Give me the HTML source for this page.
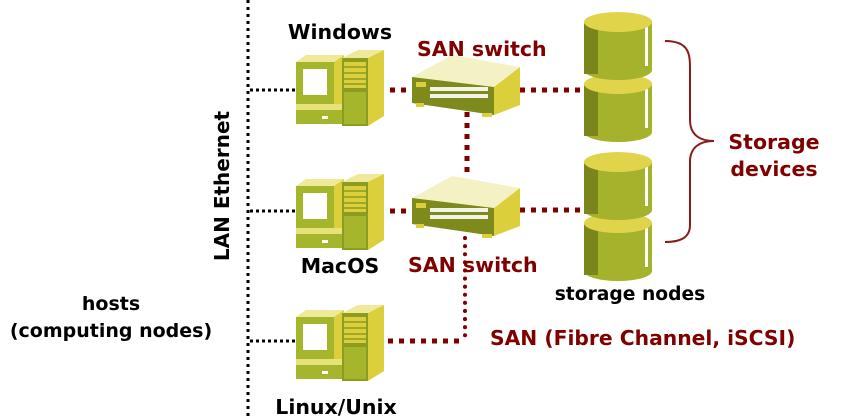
<!DOCTYPE html>
<html><head><meta charset="utf-8"><style>
html,body{margin:0;padding:0;background:#fff;width:841px;height:417px;overflow:hidden}
svg text{font-family:"DejaVu Sans","Liberation Sans",sans-serif;font-weight:bold}
</style></head><body>
<svg width="841" height="417" viewBox="0 0 841 417" xmlns="http://www.w3.org/2000/svg">
<defs>
<g id="pc">
  <polygon points="0,12 10,5 48,5 38,12" fill="#eeea9a"/>
  <polygon points="38,12 48,5 48,60 38,66" fill="#dccf3c"/>
  <rect x="0" y="12" width="38" height="42" fill="#a6b62c"/>
  <rect x="7" y="19" width="24" height="26" fill="#fff"/>
  <rect x="0" y="54" width="48" height="6" fill="#e6e27a"/>
  <rect x="0" y="60" width="48" height="14" fill="#a6b62c"/>
  <rect x="26" y="66" width="6" height="3" fill="#fff"/>
  <polygon points="46,8 62,0 88,0 72,8" fill="#eeea9a"/>
  <polygon points="72,8 88,0 88,66 72,76" fill="#dccf3c"/>
  <rect x="46" y="8" width="26" height="68" fill="#8c9c20"/>
  <rect x="48" y="12" width="22" height="26" fill="#dccf3c"/>
  <line x1="48" y1="17" x2="70" y2="17" stroke="#8c9c20" stroke-width="1.5"/>
  <line x1="48" y1="23" x2="70" y2="23" stroke="#8c9c20" stroke-width="1.5"/>
  <line x1="48" y1="29" x2="70" y2="29" stroke="#8c9c20" stroke-width="1.5"/>
  <line x1="48" y1="34" x2="70" y2="34" stroke="#8c9c20" stroke-width="1.5"/>
  <rect x="48" y="42" width="22" height="32" fill="#a6b62c"/>
</g>
<g id="sw">
  <polygon points="0,22 40,0 108,12 82,32" fill="#f4f2c4"/>
  <polygon points="82,32 108,12 108,50 82,60" fill="#dccf3c"/>
  <polygon points="0,22 82,32 82,60 0,48" fill="#7f8a1c"/>
  <rect x="4" y="27" width="10" height="5" fill="#dccf3c"/>
  <g fill="#fff">
   <rect x="18" y="32" width="58" height="4" opacity=".9"/>
   <rect x="18" y="39" width="58" height="4" opacity=".9"/>
  </g>
  <rect x="4" y="48" width="8" height="4" fill="#dccf3c"/>
  <rect x="70" y="58" width="10" height="4" fill="#dccf3c"/>
</g>
<g id="cyl">
  <path d="M0,10 V58 A34,10 0 0 0 68,58 V10 Z" fill="#a4b22c"/>
  <rect x="0" y="12" width="14" height="50" fill="#7a851c"/>
  <rect x="61" y="14" width="3" height="40" fill="#fff"/>
  <ellipse cx="34" cy="10" rx="34" ry="10" fill="#e0d44a"/>
</g>
</defs>

<line x1="248" y1="0" x2="248" y2="417" stroke="#000" stroke-width="3" stroke-dasharray="3,4"/>
<g stroke="#000" stroke-width="3" stroke-dasharray="3,3">
<line x1="250" y1="90" x2="296" y2="90"/>
<line x1="250" y1="211" x2="296" y2="211"/>
<line x1="250" y1="341" x2="296" y2="341"/>
</g>
<g stroke="#800000" stroke-width="5" stroke-dasharray="5,6">
<line x1="390" y1="90" x2="412" y2="90"/>
<line x1="520" y1="90" x2="585" y2="90"/>
<line x1="390" y1="211" x2="412" y2="211"/>
<line x1="520" y1="210" x2="585" y2="210"/>
<line x1="388" y1="341" x2="465" y2="341"/>
<line x1="467" y1="112" x2="467" y2="178"/>
</g>
<line x1="465" y1="238" x2="465" y2="336" stroke="#800000" stroke-width="4" stroke-dasharray="0.1,8" stroke-linecap="round"/>

<use href="#pc" x="296" y="50"/>
<use href="#pc" x="296" y="174"/>
<use href="#pc" x="296" y="305"/>
<use href="#sw" x="412" y="55"/>
<use href="#sw" x="412" y="176"/>

<use href="#cyl" x="584" y="74"/>
<use href="#cyl" x="584" y="12"/>
<use href="#cyl" x="584" y="213"/>
<use href="#cyl" x="584" y="152"/>

<path d="M665,41 C690,41 690,55 690,70 V120 C690,135 700,141 714,141 C700,141 690,147 690,162 V225 C690,238 680,242 665,242" fill="none" stroke="#8b1a1a" stroke-width="2"/>

<text x="340" y="39" font-size="20.5" text-anchor="middle" fill="#000">Windows</text>
<text x="417" y="56" font-size="20.5" fill="#800000">SAN switch</text>
<text x="340" y="273" font-size="20.5" text-anchor="middle" fill="#000">MacOS</text>
<text x="408" y="272" font-size="20.5" fill="#800000">SAN switch</text>
<text x="336" y="414" font-size="20.5" text-anchor="middle" fill="#000">Linux/Unix</text>
<text x="630" y="300" font-size="18.7" text-anchor="middle" fill="#000">storage nodes</text>
<text x="490" y="345" font-size="20.3" fill="#800000">SAN (Fibre Channel, iSCSI)</text>
<text x="774" y="149" font-size="20.5" text-anchor="middle" fill="#800000">Storage</text>
<text x="774" y="176" font-size="20.5" text-anchor="middle" fill="#800000">devices</text>
<text x="111" y="310" font-size="19" text-anchor="middle" fill="#000">hosts</text>
<text x="111" y="337" font-size="19" text-anchor="middle" fill="#000">(computing nodes)</text>
<text transform="translate(229,186) rotate(-90)" font-size="20" text-anchor="middle" fill="#000">LAN Ethernet</text>
</svg>
</body></html>
